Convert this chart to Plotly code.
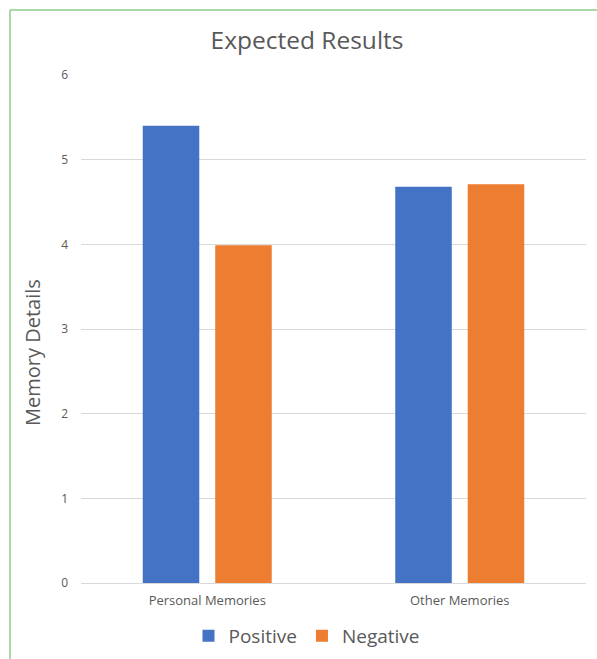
import plotly.graph_objects as go

categories = ["Personal Memories", "Other Memories"]
positive = [5.4, 4.68]
negative = [3.99, 4.71]
series_names = ["Positive", "Negative"]
colors = ["#4472C4", "#ED7D31"]
title_text = "Expected Results"
y_title = "Memory Details"
y_ticks = [0, 1, 2, 3, 4, 5, 6]

font_family = "'Open Sans', Lato, sans-serif"

fig = go.Figure()
for name, vals, col in zip(series_names, [positive, negative], colors):
    fig.add_trace(go.Bar(x=categories, y=vals, name=name,
                         marker=dict(color=col, line=dict(width=0))))

fig.update_layout(
    width=597, height=659,
    margin=dict(l=81, r=11, t=75, b=76),
    paper_bgcolor="white", plot_bgcolor="white",
    barmode="group", bargap=0.426, bargroupgap=0.22,
    title=dict(text=title_text, x=307/597, xanchor="center", y=1 - 40/659, yanchor="middle",
               font=dict(family=font_family, size=24.5, color="#595959")),
    font=dict(family=font_family, color="#595959"),
    showlegend=True,
    legend=dict(orientation="h", xref="container", yref="container",
                x=307 / 597, xanchor="center",
                y=1 - 636 / 659, yanchor="middle",
                font=dict(size=19, color="#595959"), itemwidth=30,
                traceorder="normal"),
    xaxis=dict(showgrid=False, showline=False, ticks="", automargin=False,
               ticklabelstandoff=8,
               tickfont=dict(size=13, color="#595959")),
    yaxis=dict(range=[0, 6], tickvals=y_ticks, showgrid=True, gridcolor="#D9D9D9",
               gridwidth=1, zeroline=True, zerolinecolor="#D9D9D9", zerolinewidth=1,
               showline=False, ticks="", ticklabelstandoff=12, automargin=False,
               tickfont=dict(size=12, color="#595959")),
    annotations=[
        dict(text=y_title, xref="paper", yref="paper", showarrow=False,
             x=(32 - 81) / 505, y=(583 - 353) / 508, xanchor="center", yanchor="middle",
             textangle=-90, font=dict(size=20, color="#595959", family=font_family)),
    ],
    shapes=[
        dict(type="line", xref="paper", yref="paper",
             x0=(10 - 81) / 505, x1=(10 - 81) / 505, y0=(583 - 10) / 508, y1=(583 - 665) / 508,
             line=dict(color="#8CCB8C", width=1.5)),
        dict(type="line", xref="paper", yref="paper",
             x0=(10 - 81) / 505, x1=(600 - 81) / 505, y0=(583 - 10) / 508, y1=(583 - 10) / 508,
             line=dict(color="#8CCB8C", width=1.5)),
    ],
)

fig.write_html("out.html")
